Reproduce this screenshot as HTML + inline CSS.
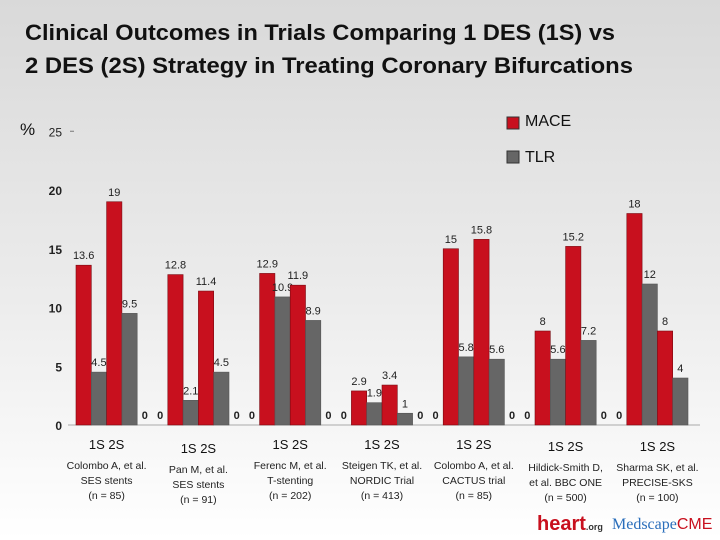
<!DOCTYPE html>
<html><head><meta charset="utf-8"><style>
html,body{margin:0;padding:0;width:720px;height:540px;overflow:hidden}
svg{display:block;font-family:"Liberation Sans",sans-serif}
</style></head><body>
<svg id="chart" width="720" height="540" viewBox="0 0 720 540">
<defs><linearGradient id="bg" x1="0" y1="0" x2="0" y2="1">
<stop offset="0" stop-color="#d9d9d9"/><stop offset="0.55" stop-color="#ececec"/><stop offset="1" stop-color="#ffffff"/></linearGradient></defs>
<rect width="720" height="540" fill="url(#bg)"/>
<g font-weight="bold" font-size="22" fill="#111">
<text x="25" y="40" textLength="590" lengthAdjust="spacingAndGlyphs">Clinical Outcomes in Trials Comparing 1 DES (1S) vs</text>
<text x="25" y="73" textLength="608" lengthAdjust="spacingAndGlyphs">2 DES (2S) Strategy in Treating Coronary Bifurcations</text>
</g>
<text x="20" y="135" font-size="17" fill="#111">%</text>
<g>
<rect x="507" y="117" width="12" height="12" fill="#c8101e" stroke="#333"/>
<text x="525" y="126" font-size="16" fill="#111">MACE</text>
<rect x="507" y="151" width="12" height="12" fill="#666" stroke="#333"/>
<text x="525" y="162" font-size="16" fill="#111">TLR</text>
</g>
<g id="axes"></g><g id="bars"></g><g id="cats"></g>
<g>
<text x="537" y="530" font-size="20" font-weight="bold" fill="#c8101e">heart<tspan font-size="9" fill="#333">.org</tspan></text>
<text x="612" y="529" font-size="16" fill="#2a6ebb" font-family="Liberation Serif,serif">Medscape<tspan fill="#c8101e" font-family="Liberation Sans,sans-serif">CME</tspan></text>
</g>
</svg>
<script>
const groups=["Colombo A, et al.|SES stents|(n = 85)","Pan M, et al.|SES stents|(n = 91)","Ferenc M, et al.|T-stenting|(n = 202)","Steigen TK, et al.|NORDIC Trial|(n = 413)","Colombo A, et al.|CACTUS trial|(n = 85)","Hildick-Smith D,|et al. BBC ONE|(n = 500)","Sharma SK, et al.|PRECISE-SKS|(n = 100)"];
const mace1S=[13.6,12.8,12.9,2.9,15,8,18];
const tlr1S=[4.5,2.1,10.9,1.9,5.8,5.6,12];
const mace2S=[19,11.4,11.9,3.4,15.8,15.2,8];
const tlr2S=[9.5,4.5,8.9,1,5.6,7.2,4];
const yTicks=[0,5,10,15,20,25];
const NS="http://www.w3.org/2000/svg";
const x0=76,slot=15.3,y0=425,pxPerUnit=11.75;
const yScale=v=>y0-v*pxPerUnit;
const xSlot=(g,i)=>x0+(g*6+i)*slot;
function mk(tag,attrs,parent,txt){const e=document.createElementNS(NS,tag);for(const k in attrs)e.setAttribute(k,attrs[k]);if(txt!=null)e.textContent=txt;parent.appendChild(e);return e;}
const axes=document.getElementById('axes'),bars=document.getElementById('bars'),cats=document.getElementById('cats');
const ax=mk('line',{x1:68,x2:700,y1:y0,y2:y0,stroke:'#aaa','stroke-width':1},axes);


yTicks.forEach(t=>{
 const l=mk('text',{x:62,y:yScale(t)+5,'text-anchor':'end','font-size':12,'font-weight':t===25?'normal':'bold',fill:'#222'},axes,t);
 
 
});
const dash=mk('line',{x1:70,x2:74,y1:yScale(25),y2:yScale(25),stroke:'#777'},axes);


const series=[[mace1S,'#c8101e','mace-1s'],[tlr1S,'#666666','tlr-1s'],[mace2S,'#c8101e','mace-2s'],[tlr2S,'#666666','tlr-2s']];
groups.forEach((gname,g)=>{
 series.forEach((s,i)=>{
  const v=s[0][g],x=xSlot(g,i),y=yScale(v);
  const r=mk('rect',{x:x,y:y,width:slot,height:y0-y,fill:s[1],stroke:s[1]==='#666666'?'#555':'#7a0a12','stroke-width':0.6},bars);
  
  
  const t=mk('text',{x:x+slot/2,y:y-6,'text-anchor':'middle','font-size':11,fill:'#222'},bars,v);
  
  
 });
 if(g<6){[4,5].forEach(i=>{
  const z=mk('text',{x:xSlot(g,i)+slot/2,y:y0-6,'text-anchor':'middle','font-size':11,'font-weight':'bold',fill:'#222'},bars,'0');
  
  
 });}
 const cx=xSlot(g,0)+2*slot;
 const dy=[0,4,0,0,0,2,2][g];
 const s1=mk('text',{x:cx,y:449+dy,'text-anchor':'middle','font-size':13,fill:'#111'},cats,'1S    2S');
 s1.setAttribute('xml:space','preserve');
 
 
 gname.split('|').forEach((ln,k)=>{
  const t=mk('text',{x:cx,y:469+dy+k*15,'text-anchor':'middle','font-size':10.5,fill:'#222'},cats,ln);
  
  
 });
});
</script>
</body></html>
